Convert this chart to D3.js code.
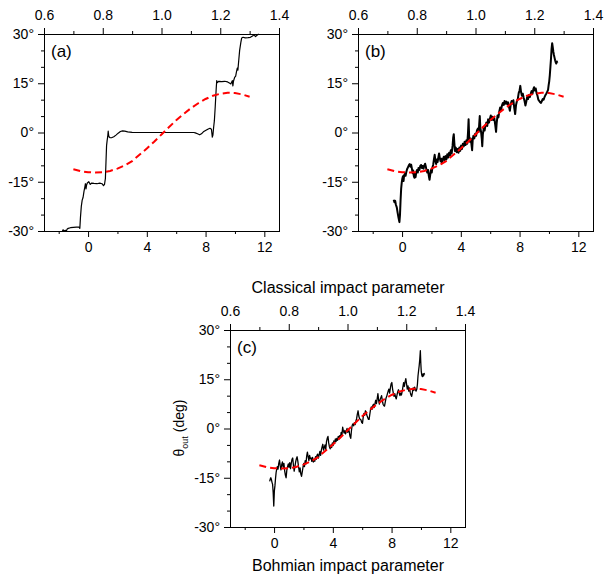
<!DOCTYPE html>
<html>
<head>
<meta charset="utf-8">
<script src="https://cdn.jsdelivr.net/npm/d3@7"></script>
<style>
  html, body { margin: 0; padding: 0; background: #fff; }
  svg { display: block; font-family: "Liberation Sans", Arial, Helvetica, sans-serif; }
</style>
</head>
<body>
<svg id="chart" width="615" height="583"></svg>
<script>
// ---------------- data ----------------
const bohmianDomain = [-3, 13];
const classicalDomain = [0.6, 1.4];
const angleDomain = [-30, 30];

const bottomMajorTicks = [0, 4, 8, 12];
const bottomMinorTicks = [-2, 2, 6, 10];
const topMajorTicks = [0.6, 0.8, 1.0, 1.2, 1.4];
const topMinorTicks = [0.7, 0.9, 1.1, 1.3];
const yMajorTicks = [-30, -15, 0, 15, 30];
const yMinorTicks = [-25, -20, -10, -5, 5, 10, 20, 25];

const panelLabels = ["(a)", "(b)", "(c)"];
const topTitle = "Classical impact parameter";
const bottomTitle = "Bohmian impact parameter";

// red dashed reference curve (same in each panel)
const redX = [-1, -0.5, 0, 0.5, 1, 1.5, 2, 2.5, 3, 3.5, 4, 4.5, 5, 5.5, 6, 6.5, 7, 7.5, 8, 8.5, 9, 9.5, 10, 10.5, 11];
const redY = [-11.2, -11.8, -12.1, -12.2, -12.1, -11.7, -11.0, -10.0, -8.7, -6.8, -4.9, -2.8, -0.6, 1.6, 3.7, 5.6, 7.4, 8.9, 10.2, 11.2, 11.8, 12.1, 12.0, 11.6, 10.9];

// panel (a): staircase
const aX = [-1.75, -1.70, -1.65, -1.55, -1.48, -1.42, -1.35, -1.20, -1.00, -0.80, -0.62, -0.56, -0.52, -0.46, -0.40, -0.34, -0.28, -0.22, -0.18, -0.14, -0.10, -0.05, 0.05, 0.15, 0.25, 0.40, 0.60, 0.80, 0.95, 1.05, 1.12, 1.18, 1.22, 1.26, 1.30, 1.34, 1.37, 1.40, 1.44, 1.50, 1.60, 1.75, 1.90, 2.05, 2.20, 2.35, 2.50, 2.70, 3.00, 3.40, 4.50, 6.00, 7.20, 7.30, 7.45, 7.60, 7.72, 7.85, 8.00, 8.15, 8.30, 8.40, 8.46, 8.50, 8.55, 8.60, 8.66, 8.72, 8.76, 8.80, 8.90, 9.10, 9.30, 9.50, 9.65, 9.72, 9.78, 9.82, 9.86, 9.90, 9.98, 10.05, 10.10, 10.16, 10.20, 10.26, 10.32, 10.40, 10.46, 10.55, 10.70, 10.90, 11.05, 11.20, 11.30, 11.40, 11.50, 11.62];
const aY = [-30.0, -29.6, -30.0, -29.8, -30.0, -29.4, -29.2, -29.0, -28.9, -28.8, -28.8, -29.2, -26.0, -22.5, -20.6, -19.8, -18.0, -16.6, -15.6, -17.2, -16.0, -15.4, -15.0, -15.8, -15.4, -15.5, -15.6, -15.4, -15.6, -16.2, -15.8, -14.0, -9.0, -4.0, -2.4, -1.2, 0.4, -0.8, -1.4, -1.6, -1.6, -1.3, -0.8, -0.2, 0.3, 0.5, 0.4, 0.2, 0.05, 0.0, 0.0, 0.0, 0.0, -0.1, -0.4, -0.7, -0.4, 0.2, 0.6, 1.0, 1.3, 1.0, -1.4, -0.8, 1.6, 3.6, 8.0, 13.0, 15.8, 15.2, 15.6, 15.5, 15.6, 15.4, 15.0, 14.8, 15.4, 15.8, 14.2, 15.6, 16.8, 17.2, 18.4, 19.6, 19.0, 22.0, 25.0, 27.4, 28.8, 29.0, 28.8, 28.9, 29.0, 29.4, 29.8, 29.2, 29.6, 30.0];

// panel (b): noisy trajectory
const bX = [-0.57, -0.52, -0.47, -0.42, -0.36, -0.30, -0.24, -0.18, -0.14, -0.10, -0.06, -0.02, 0.02, 0.06, 0.10, 0.14, 0.19, 0.24, 0.29, 0.34, 0.40, 0.46, 0.52, 0.57, 0.62, 0.67, 0.72, 0.76, 0.80, 0.84, 0.88, 0.92, 0.97, 1.02, 1.07, 1.12, 1.18, 1.24, 1.30, 1.35, 1.40, 1.46, 1.52, 1.57, 1.62, 1.67, 1.72, 1.77, 1.82, 1.87, 1.92, 1.97, 2.02, 2.07, 2.12, 2.17, 2.22, 2.27, 2.32, 2.37, 2.42, 2.47, 2.52, 2.57, 2.62, 2.67, 2.72, 2.78, 2.84, 2.90, 2.96, 3.02, 3.08, 3.14, 3.20, 3.26, 3.32, 3.38, 3.44, 3.48, 3.52, 3.56, 3.60, 3.66, 3.72, 3.78, 3.84, 3.90, 3.96, 4.02, 4.08, 4.14, 4.20, 4.26, 4.32, 4.38, 4.44, 4.49, 4.53, 4.57, 4.62, 4.67, 4.72, 4.77, 4.81, 4.86, 4.92, 4.98, 5.04, 5.10, 5.16, 5.22, 5.26, 5.29, 5.33, 5.38, 5.43, 5.46, 5.50, 5.56, 5.62, 5.68, 5.74, 5.80, 5.86, 5.92, 5.98, 6.04, 6.10, 6.16, 6.22, 6.28, 6.34, 6.40, 6.44, 6.50, 6.56, 6.62, 6.68, 6.74, 6.80, 6.86, 6.92, 6.98, 7.04, 7.10, 7.16, 7.22, 7.28, 7.34, 7.40, 7.46, 7.52, 7.58, 7.64, 7.70, 7.76, 7.82, 7.88, 7.94, 8.00, 8.05, 8.10, 8.16, 8.22, 8.28, 8.34, 8.40, 8.46, 8.52, 8.58, 8.64, 8.70, 8.76, 8.82, 8.88, 8.94, 8.99, 9.04, 9.10, 9.16, 9.22, 9.28, 9.34, 9.40, 9.46, 9.52, 9.58, 9.64, 9.70, 9.76, 9.82, 9.88, 9.94, 9.98, 10.02, 10.06, 10.10, 10.14, 10.18, 10.22, 10.26, 10.30, 10.34, 10.38, 10.42, 10.46, 10.50, 10.54, 10.57];
const bY = [-20.5, -21.2, -20.8, -22.0, -22.8, -24.5, -26.0, -27.3, -25.0, -20.5, -17.0, -15.2, -14.0, -13.3, -14.8, -13.0, -12.6, -13.2, -12.0, -11.2, -10.6, -10.0, -9.6, -10.4, -9.8, -11.0, -12.4, -11.6, -13.2, -13.8, -12.6, -13.6, -12.0, -11.4, -12.2, -10.8, -11.4, -10.2, -9.9, -10.8, -10.2, -11.0, -10.0, -9.5, -10.4, -11.6, -12.2, -11.4, -13.2, -14.4, -12.8, -11.4, -12.2, -10.6, -9.8, -8.2, -6.8, -8.6, -9.6, -8.2, -9.0, -7.6, -6.4, -7.8, -8.8, -8.0, -9.4, -8.2, -7.4, -8.4, -7.2, -8.2, -6.6, -7.6, -6.2, -7.0, -5.4, -6.4, -4.0, -1.6, -0.5, -3.2, -5.6, -4.6, -6.0, -5.0, -6.2, -4.6, -5.6, -4.0, -5.0, -3.4, -4.2, -2.8, -3.8, -2.4, -3.4, 0.0, 4.0, -1.6, -2.8, -1.8, -3.4, -5.4, -2.2, -1.0, -1.8, -0.4, -1.0, 0.6, 1.2, 0.2, 3.0, 5.0, 1.4, 0.2, -2.0, -4.2, -0.6, 1.2, 0.6, 2.2, 3.0, 2.0, 4.0, 3.0, 4.2, 5.2, 3.8, 4.8, 3.8, 4.4, 2.4, 0.2, 2.8, 5.2, 4.6, 6.4, 7.6, 6.8, 8.2, 9.0, 8.4, 9.6, 8.8, 9.4, 8.6, 9.2, 7.8, 6.6, 8.6, 9.6, 8.8, 9.8, 7.4, 5.6, 8.4, 9.6, 10.2, 12.0, 12.8, 14.2, 12.4, 11.2, 11.8, 10.6, 9.6, 8.2, 9.4, 10.8, 10.2, 11.4, 10.8, 11.8, 12.6, 11.8, 13.2, 13.8, 12.8, 13.4, 12.0, 11.2, 10.0, 9.6, 9.2, 9.0, 9.6, 10.2, 10.0, 10.8, 11.4, 11.8, 12.4, 13.0, 14.4, 15.6, 17.5, 20.0, 22.5, 25.5, 27.2, 26.0, 24.6, 23.6, 22.8, 22.0, 21.4, 21.0, 21.6, 21.2];

// panel (c): noisy trajectory
const cX = [-0.30, -0.26, -0.22, -0.18, -0.14, -0.10, -0.06, -0.02, 0.02, 0.06, 0.10, 0.14, 0.18, 0.22, 0.27, 0.32, 0.37, 0.42, 0.47, 0.52, 0.57, 0.62, 0.67, 0.72, 0.77, 0.82, 0.87, 0.92, 0.97, 1.02, 1.07, 1.12, 1.17, 1.22, 1.27, 1.32, 1.37, 1.42, 1.47, 1.52, 1.57, 1.62, 1.67, 1.72, 1.77, 1.82, 1.87, 1.92, 1.97, 2.02, 2.07, 2.12, 2.17, 2.22, 2.27, 2.32, 2.37, 2.42, 2.47, 2.52, 2.57, 2.62, 2.67, 2.72, 2.77, 2.82, 2.87, 2.92, 2.97, 3.02, 3.07, 3.12, 3.17, 3.22, 3.27, 3.32, 3.37, 3.42, 3.47, 3.52, 3.57, 3.62, 3.67, 3.72, 3.77, 3.82, 3.87, 3.92, 3.97, 4.02, 4.07, 4.12, 4.17, 4.22, 4.27, 4.32, 4.37, 4.42, 4.47, 4.52, 4.57, 4.62, 4.67, 4.72, 4.77, 4.82, 4.87, 4.92, 4.97, 5.02, 5.07, 5.12, 5.17, 5.22, 5.27, 5.32, 5.37, 5.42, 5.47, 5.52, 5.57, 5.62, 5.67, 5.72, 5.77, 5.82, 5.87, 5.92, 5.97, 6.02, 6.07, 6.12, 6.17, 6.22, 6.27, 6.32, 6.37, 6.42, 6.47, 6.52, 6.57, 6.62, 6.67, 6.72, 6.77, 6.82, 6.87, 6.92, 6.97, 7.02, 7.07, 7.12, 7.17, 7.22, 7.27, 7.32, 7.37, 7.42, 7.47, 7.52, 7.57, 7.62, 7.67, 7.72, 7.77, 7.82, 7.87, 7.92, 7.97, 8.02, 8.07, 8.12, 8.17, 8.22, 8.27, 8.32, 8.37, 8.42, 8.47, 8.52, 8.57, 8.62, 8.67, 8.72, 8.77, 8.82, 8.87, 8.92, 8.97, 9.02, 9.07, 9.12, 9.17, 9.22, 9.27, 9.32, 9.37, 9.42, 9.47, 9.52, 9.57, 9.62, 9.67, 9.72, 9.76, 9.80, 9.84, 9.88, 9.92, 9.96, 9.99, 10.02, 10.06, 10.10, 10.14, 10.18, 10.22, 10.25];
const cY = [-16.1, -15.4, -15.0, -15.6, -16.4, -17.0, -19.5, -23.6, -19.0, -17.4, -15.2, -13.4, -12.4, -11.6, -12.4, -10.6, -9.6, -11.4, -12.6, -11.0, -10.2, -11.8, -10.6, -12.8, -14.2, -15.0, -12.6, -11.6, -10.8, -11.8, -10.4, -12.2, -10.6, -9.4, -9.0, -11.2, -13.0, -11.6, -10.2, -9.2, -8.6, -10.0, -11.8, -13.2, -12.0, -13.8, -14.6, -13.2, -11.8, -10.6, -11.6, -9.8, -10.8, -8.4, -7.2, -8.6, -9.8, -8.2, -9.2, -9.0, -10.0, -8.8, -10.2, -9.4, -10.0, -8.6, -9.4, -8.2, -7.8, -9.0, -8.0, -7.0, -8.2, -6.6, -5.6, -4.8, -6.6, -5.8, -5.0, -6.4, -4.0, -3.0, -2.4, -4.4, -5.6, -6.2, -5.0, -5.8, -4.4, -5.2, -3.8, -4.6, -3.2, -4.0, -3.0, -3.6, -2.4, -3.2, -2.2, -2.8, -1.2, -2.0, 0.4, -0.8, -1.4, -0.6, -1.6, -0.8, 0.0, -1.2, -0.2, -1.0, -2.4, -3.0, -0.6, 1.0, 1.4, 0.8, 1.8, 1.2, 2.2, 3.0, 4.4, 5.4, 3.8, 3.0, 2.8, 2.6, 1.8, 1.6, 3.4, 4.6, 4.0, 5.4, 5.0, 4.0, 3.4, 2.8, 2.8, 4.4, 5.8, 6.6, 5.8, 7.0, 7.4, 6.4, 7.6, 8.6, 7.6, 9.0, 10.6, 8.6, 7.4, 8.8, 9.4, 10.0, 8.6, 7.4, 7.0, 6.8, 8.0, 9.2, 9.8, 10.6, 11.4, 12.0, 10.8, 12.4, 13.6, 14.0, 12.0, 10.8, 9.8, 10.6, 9.6, 9.0, 10.2, 11.2, 11.8, 10.8, 10.0, 10.8, 10.2, 11.2, 12.6, 14.0, 12.8, 14.2, 15.2, 13.6, 12.0, 13.0, 11.4, 12.4, 11.0, 10.2, 9.8, 11.0, 12.4, 11.6, 12.6, 11.8, 11.4, 12.0, 13.4, 16.0, 17.6, 19.1, 21.0, 23.7, 20.0, 17.5, 16.2, 15.8, 16.6, 16.0, 16.8, 16.4];

// ---------------- layout ----------------
const W = 235, H = 197;
const panels = [
  { label: panelLabels[0], left: 44,  top: 34,  xs: aX, ys: aY, lw: 1.2 },
  { label: panelLabels[1], left: 358, top: 34,  xs: bX, ys: bY, lw: 2.0 },
  { label: panelLabels[2], left: 230, top: 330, xs: cX, ys: cY, lw: 1.3 }
];

const svg = d3.select("#chart");
const x = d3.scaleLinear().domain(bohmianDomain).range([0, W]);
const xTop = d3.scaleLinear().domain(classicalDomain).range([0, W]);
const y = d3.scaleLinear().domain(angleDomain).range([H, 0]);
const line = d3.line().x(d => x(d[0])).y(d => y(d[1]));
const red = d3.zip(redX, redY);

const FS = 14;

function styleAxis(g) {
  g.select(".domain").remove();
  g.selectAll(".tick line").attr("stroke", "#000");
  g.selectAll(".tick text").attr("fill", "#000").attr("font-size", FS).attr("font-family", null);
}

panels.forEach((p, i) => {
  const g = svg.append("g").attr("transform", `translate(${p.left},${p.top})`);

  // bottom axis
  g.append("g").attr("transform", `translate(0,${H})`)
    .call(d3.axisBottom(x).tickValues(bottomMinorTicks).tickSize(3).tickFormat(""))
    .call(styleAxis);
  g.append("g").attr("transform", `translate(0,${H})`)
    .call(d3.axisBottom(x).tickValues(bottomMajorTicks).tickSize(6).tickPadding(5).tickFormat(d => String(d)))
    .call(styleAxis);

  // top axis
  g.append("g")
    .call(d3.axisTop(xTop).tickValues(topMinorTicks).tickSize(3).tickFormat(""))
    .call(styleAxis);
  g.append("g")
    .call(d3.axisTop(xTop).tickValues(topMajorTicks).tickSize(6).tickPadding(8).tickFormat(d3.format(".1f")))
    .call(styleAxis);

  // left axis
  g.append("g")
    .call(d3.axisLeft(y).tickValues(yMinorTicks).tickSize(3).tickFormat(""))
    .call(styleAxis);
  g.append("g")
    .call(d3.axisLeft(y).tickValues(yMajorTicks).tickSize(6).tickPadding(4).tickFormat(d => String(d) + "\u00B0"))
    .call(styleAxis);

  // frame
  g.append("rect").attr("x", 0.5).attr("y", 0.5).attr("width", W).attr("height", H)
    .attr("fill", "none").attr("stroke", "#000").attr("stroke-width", 1);

  // black data
  g.append("path").datum(d3.zip(p.xs, p.ys)).attr("d", line)
    .attr("fill", "none").attr("stroke", "#000").attr("stroke-width", p.lw)
    .attr("stroke-linejoin", "round");

  // red dashed curve (on top)
  g.append("path").datum(red).attr("d", line)
    .attr("fill", "none").attr("stroke", "#ff0000").attr("stroke-width", 2)
    .attr("stroke-dasharray", "7,4");

  // panel label
  g.append("text").attr("x", 7).attr("y", 23).attr("font-size", 17).attr("fill", "#000").text(p.label);
});

// axis titles
svg.append("text").attr("x", 348).attr("y", 293).attr("text-anchor", "middle")
  .attr("font-size", 16).attr("fill", "#000").text(topTitle);
svg.append("text").attr("x", 348).attr("y", 571).attr("text-anchor", "middle")
  .attr("font-size", 16).attr("fill", "#000").text(bottomTitle);

// y label
const yl = svg.append("text").attr("transform", "translate(184,428) rotate(-90)")
  .attr("text-anchor", "middle").attr("font-size", 14).attr("fill", "#000");
yl.append("tspan").text("\u03B8");
yl.append("tspan").attr("font-size", 9).attr("dy", 4).text("out");
yl.append("tspan").attr("dy", -4).text(" (deg)");
</script>
</body>
</html>
